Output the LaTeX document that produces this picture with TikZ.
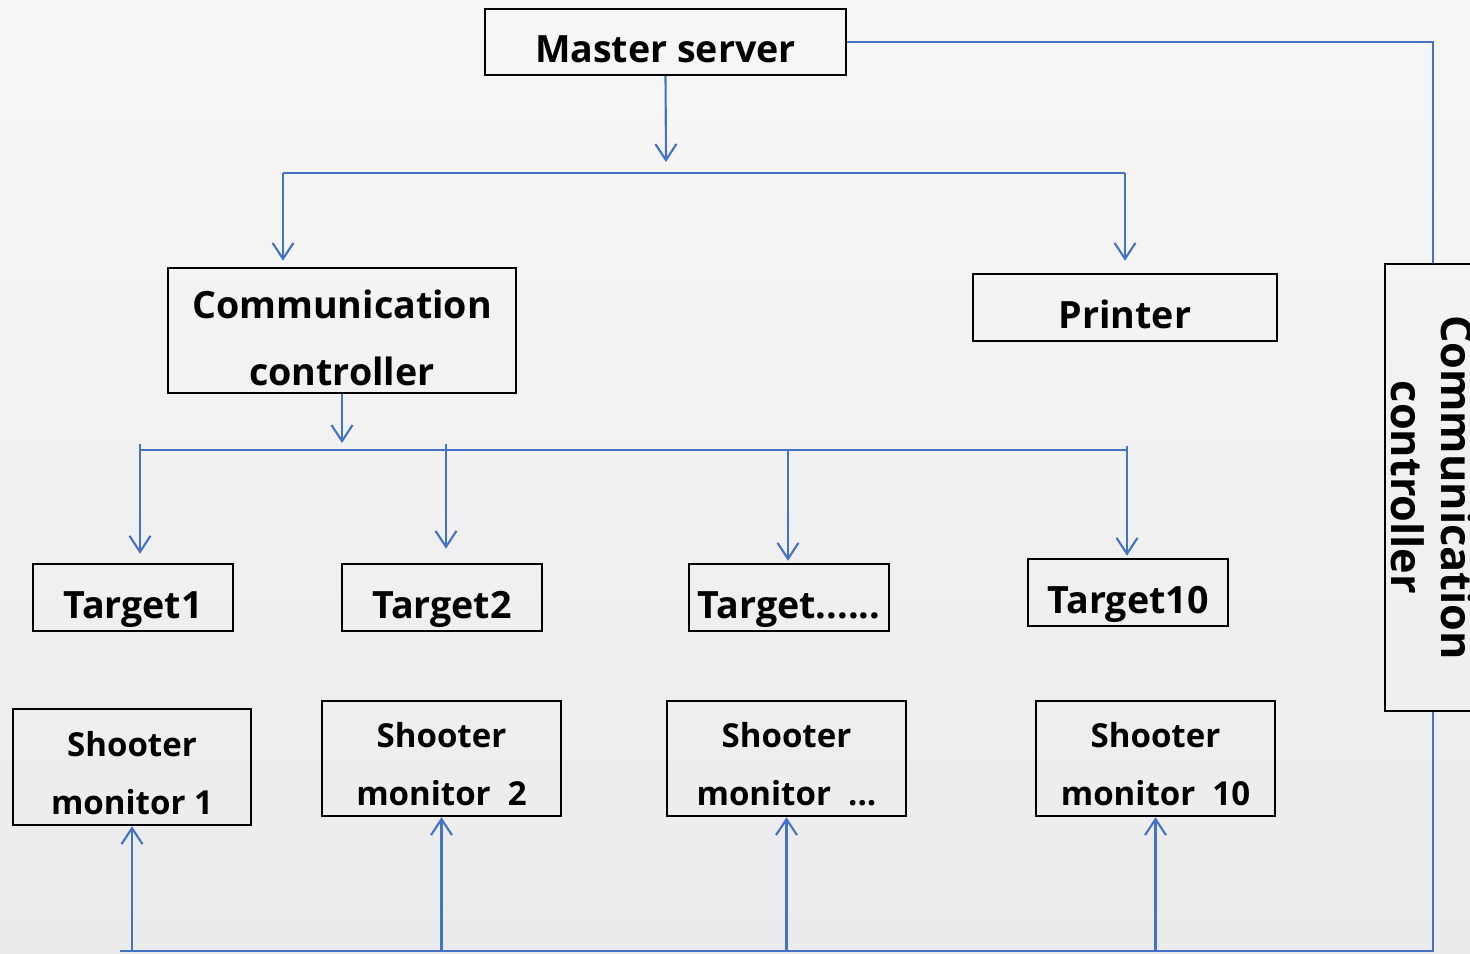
\documentclass[tikz,border=0pt]{standalone}
\usepackage{fontspec}
\setmainfont{Open Sans}
\usepackage{tikz}
\usetikzlibrary{arrows.meta,positioning,calc}
\definecolor{linkblue}{HTML}{4472C4}
\definecolor{bgtop}{HTML}{F7F7F7}
\definecolor{bgbottom}{HTML}{EBEBED}
\newcommand{\toplift}[1]{\rule{0pt}{#1}}
\tikzset{
    unitbox/.style={draw=black, line width=0.7pt, inner sep=0pt, align=center,
        font=\bfseries\fontsize{10.7}{13}\selectfont,
        execute at begin node={\rule{0pt}{14.5pt}},
        execute at end node={\rule[-2.6pt]{0pt}{2.6pt}}},
    twolinebox/.style={draw=black, line width=0.7pt, inner sep=0pt, align=center,
        font=\bfseries\fontsize{10.7}{13}\selectfont},
    monitorbox/.style={draw=black, line width=0.7pt, inner sep=0pt, align=center,
        minimum width=2.39cm, minimum height=1.15cm,
        font=\bfseries\fontsize{9.4}{11.3}\selectfont},
    targetbox/.style={unitbox, minimum width=2.00cm, minimum height=0.67cm},
    link/.style={draw=linkblue, line width=0.6pt},
    arrowlink/.style={link, -{Straight Barb[length=0.16cm,width=0.21cm]}}
}

\begin{document}
\begin{tikzpicture}
    \useasboundingbox (0,0) rectangle (14.70,-9.54);
    \clip (0,0) rectangle (14.70,-9.54);
    \shade[top color=bgtop, bottom color=bgbottom] (0,0) rectangle (14.70,-9.54);

    \node[unitbox, minimum width=3.61cm, minimum height=0.66cm] (master) at (6.655,-0.42) {Master server};
    \node[twolinebox, minimum width=3.48cm, minimum height=1.25cm] (comm) at (3.42,-3.305) {\toplift{12.2pt}Communication\\[6.1pt]controller};
    \node[unitbox, minimum width=3.04cm, minimum height=0.67cm] (printer) at (11.25,-3.075) {Printer};
    \node[draw=black, line width=0.7pt, inner sep=0pt, align=center, rotate=-90,
        minimum width=4.47cm, minimum height=0.96cm,
        font=\bfseries\fontsize{12.3}{14.2}\selectfont] (ctl) at (14.33,-4.875) {Communication\\controller};

    \node[targetbox] (t1) at (1.33,-5.975) {Target1};
    \node[targetbox] (t2) at (4.42,-5.975) {Target2};
    \node[targetbox] (t3) at (7.89,-5.975) {Target......};
    \node[targetbox] (t4) at (11.28,-5.925) {Target10};

    \node[monitorbox, minimum width=2.38cm, minimum height=1.16cm] (m1) at (1.32,-7.67) {\toplift{10.6pt}Shooter\\[5.2pt]monitor 1};
    \node[monitorbox] (m2) at (4.415,-7.585) {\toplift{10.6pt}Shooter\\[5.2pt]monitor\ \ 2};
    \node[monitorbox] (m3) at (7.865,-7.585) {\toplift{10.6pt}Shooter\\[5.2pt]monitor\ \ ...};
    \node[monitorbox] (m4) at (11.555,-7.585) {\toplift{10.6pt}Shooter\\[5.2pt]monitor\ \ 10};

    \coordinate (mdrop) at (6.66,-1.62);
    \coordinate (busTL) at (2.83,-1.73);
    \coordinate (busTR) at (11.25,-1.73);
    \coordinate (cdrop) at (3.42,-4.43);
    \coordinate (busML) at (1.40,-4.50);
    \coordinate (busMR) at (11.27,-4.50);
    \coordinate (d1) at (1.40,-4.44);
    \coordinate (d2) at (4.46,-4.44);
    \coordinate (d3) at (7.88,-4.50);
    \coordinate (d4) at (11.27,-4.46);
    \coordinate (bbus) at (1.20,-9.51);

    \draw[arrowlink] (master.south) -- (mdrop);
    \draw[link] (busTL) -- (busTR);
    \draw[arrowlink, shorten >=0.06cm] (busTL) -- (busTL |- comm.north);
    \draw[arrowlink, shorten >=0.12cm] (busTR) -- (printer.north);

    \draw[arrowlink] (comm.south) -- (cdrop);
    \draw[link] (busML) -- (busMR);
    \draw[arrowlink, shorten >=0.09cm] (d1) -- (d1 |- t1.north);
    \draw[arrowlink, shorten >=0.14cm] (d2) -- (d2 |- t2.north);
    \draw[arrowlink, shorten >=0.02cm] (d3) -- (d3 |- t3.north);
    \draw[arrowlink, shorten >=0.02cm] (d4) -- (d4 |- t4.north);

    \draw[link] (master.east) -| (ctl.west);
    \draw[link] (ctl.east) |- (bbus);
    \draw[arrowlink] (m1.south |- bbus) -- (m1.south);
    \draw[arrowlink] (m2.south |- bbus) -- (m2.south);
    \draw[arrowlink] (m3.south |- bbus) -- (m3.south);
    \draw[arrowlink] (m4.south |- bbus) -- (m4.south);
\end{tikzpicture}
\end{document}
